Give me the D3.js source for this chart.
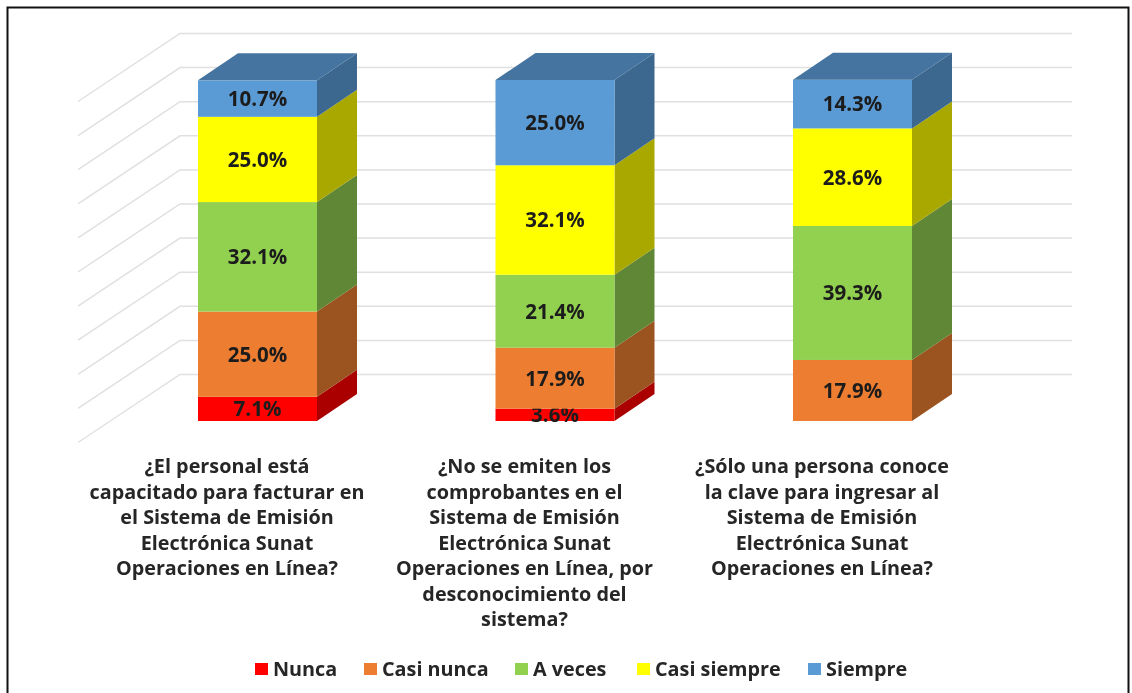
<!DOCTYPE html>
<html>
<head>
<meta charset="utf-8">
<script src="https://cdn.jsdelivr.net/npm/d3@7"></script>
<style>
  html, body { margin: 0; padding: 0; background: #fff; }
  svg { display: block; font-family: "Open Sans", sans-serif; filter: blur(0.45px); }
</style>
</head>
<body>
<div id="chart"></div>
<script>
const questions = ['q1', 'q2', 'q3'];
const questionLines = [
  ['¿El personal está', 'capacitado para facturar en', 'el Sistema de Emisión', 'Electrónica Sunat', 'Operaciones en Línea?'],
  ['¿No se emiten los', 'comprobantes en el', 'Sistema de Emisión', 'Electrónica Sunat', 'Operaciones en Línea, por', 'desconocimiento del', 'sistema?'],
  ['¿Sólo una persona conoce', 'la clave para ingresar al', 'Sistema de Emisión', 'Electrónica Sunat', 'Operaciones en Línea?']
];
const answers = ['Nunca', 'Casi nunca', 'A veces', 'Casi siempre', 'Siempre'];
const nunca = [7.1, 3.6, 0];
const casiNunca = [25.0, 17.9, 17.9];
const aVeces = [32.1, 21.4, 39.3];
const casiSiempre = [25.0, 32.1, 28.6];
const siempre = [10.7, 25.0, 14.3];
const gridTicks = [0, 10, 20, 30, 40, 50, 60, 70, 80, 90, 100];

const seriesValues = [nunca, casiNunca, aVeces, casiSiempre, siempre];
const frontColors = ['#ff0000', '#ed7d31', '#92d050', '#ffff00', '#5b9bd5'];
const sideColors = ['#aa0000', '#9b5320', '#5f8736', '#a8a800', '#3c678e'];
const TOP_COLOR = '#44749f';

const WIDTH = 1132;
const HEIGHT = 693;
// bar depth in the fake 3D projection
const DEPTH = { x: 40, y: 27 };
// back wall offset from the bar front, and length of the floor/side lines
const WALL = { x: 18, y: 46.5 };
const FLOOR = { x: 102, y: 68 };
const WALL_RIGHT = 1072;

const svg = d3.select('#chart').append('svg')
  .attr('width', WIDTH)
  .attr('height', HEIGHT);

const x = d3.scaleBand().domain(questions).range([198, 912]).paddingInner(0.6);
const y = d3.scaleLinear().domain([0, 100]).range([421, 80]);

// Frame
svg.append('path')
  .attr('d', `M7.5,${HEIGHT + 2}V7.5H1128.5V${HEIGHT + 2}`)
  .attr('fill', 'none')
  .attr('stroke', '#111')
  .attr('stroke-width', 2);

// Gridlines: back wall plus side wall
const wallLeft = x('q1') - WALL.x;
svg.append('g').selectAll('path')
  .data(gridTicks)
  .join('path')
  .attr('d', d => {
    const wy = y(d) - WALL.y;
    return `M${wallLeft - FLOOR.x},${wy + FLOOR.y}L${wallLeft},${wy}H${WALL_RIGHT}`;
  })
  .attr('fill', 'none')
  .attr('stroke', '#e0e0e0')
  .attr('stroke-width', 1.5);

// Stacks
const rows = questions.map((q, i) => {
  const row = { q };
  answers.forEach((a, j) => { row[a] = seriesValues[j][i]; });
  return row;
});
const stacked = d3.stack().keys(answers)(rows);

const layers = svg.append('g').selectAll('g')
  .data(stacked)
  .join('g');

// Side faces
layers.selectAll('path.side')
  .data((s, j) => s.map(d => ({ d, j })))
  .join('path')
  .attr('class', 'side')
  .attr('fill', p => sideColors[p.j])
  .attr('d', p => {
    const r = x(p.d.data.q) + x.bandwidth();
    const y0 = y(p.d[0]);
    const y1 = y(p.d[1]);
    return `M${r},${y0}L${r + DEPTH.x},${y0 - DEPTH.y}V${y1 - DEPTH.y}L${r},${y1}Z`;
  });

// Front faces
layers.selectAll('rect')
  .data((s, j) => s.map(d => ({ d, j })))
  .join('rect')
  .attr('x', p => x(p.d.data.q))
  .attr('y', p => y(p.d[1]))
  .attr('width', x.bandwidth())
  .attr('height', p => y(p.d[0]) - y(p.d[1]))
  .attr('fill', p => frontColors[p.j]);

// Top caps
svg.append('g').selectAll('path')
  .data(stacked[stacked.length - 1])
  .join('path')
  .attr('fill', TOP_COLOR)
  .attr('d', d => {
    const l = x(d.data.q);
    const t = y(d[1]);
    return `M${l},${t}L${l + DEPTH.x},${t - DEPTH.y}H${l + x.bandwidth() + DEPTH.x}L${l + x.bandwidth()},${t}Z`;
  });

// Value labels
layers.selectAll('text')
  .data(s => s.filter(d => d[1] - d[0] > 0))
  .join('text')
  .attr('x', d => x(d.data.q) + x.bandwidth() / 2)
  .attr('y', d => y((d[0] + d[1]) / 2))
  .attr('dy', '0.36em')
  .attr('text-anchor', 'middle')
  .attr('fill', '#1c1c1c')
  .style('font-size', '20.5px')
  .style('font-weight', 700)
  .text(d => (d[1] - d[0]).toFixed(1) + '%');

// Category labels
const LABEL_TOP = 466;
const LINE_H = 25.5;
svg.append('g').selectAll('text')
  .data(questions)
  .join('text')
  .attr('text-anchor', 'middle')
  .attr('fill', '#262626')
  .style('font-size', '19.8px')
  .style('font-weight', 700)
  .each(function (q, i) {
    d3.select(this).selectAll('tspan')
      .data(questionLines[i])
      .join('tspan')
      .attr('x', x(q) + x.bandwidth() / 2 - 30.5)
      .attr('y', (d, k) => LABEL_TOP + k * LINE_H)
      .attr('dy', '0.36em')
      .text(d => d);
  });

// Legend
const legendSwatchX = [255, 364, 515, 637, 808];
const legend = svg.append('g').selectAll('g')
  .data(answers)
  .join('g')
  .attr('transform', (d, i) => `translate(${legendSwatchX[i]},669)`);
legend.append('rect')
  .attr('y', -6)
  .attr('width', 13)
  .attr('height', 12)
  .attr('fill', (d, i) => frontColors[i]);
legend.append('text')
  .attr('x', 18)
  .attr('dy', '0.36em')
  .attr('fill', '#262626')
  .style('font-size', '19.8px')
  .style('font-weight', 700)
  .text(d => d);
</script>
</body>
</html>
